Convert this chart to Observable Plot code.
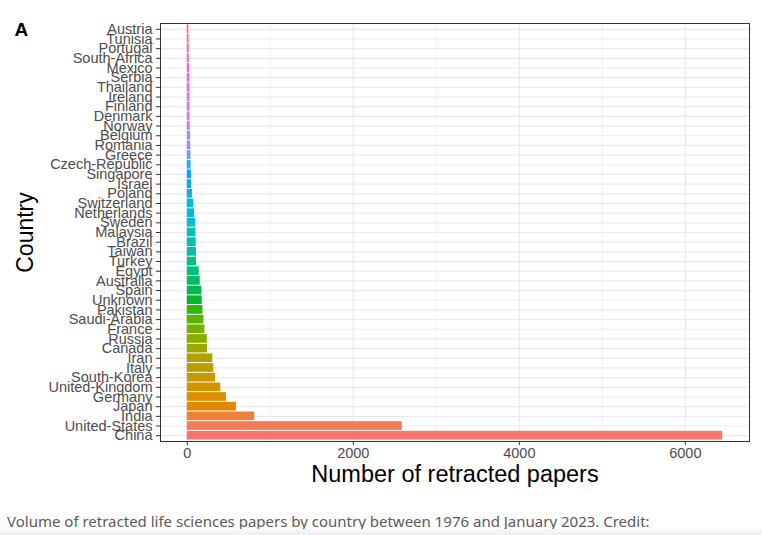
<!DOCTYPE html>
<html>
<head>
<meta charset="utf-8">
<script src="https://cdn.jsdelivr.net/npm/d3@7"></script>
<script src="https://cdn.jsdelivr.net/npm/@observablehq/plot@0.6"></script>
<style>
  html, body { margin: 0; padding: 0; background: #fff; width: 762px; height: 535px; overflow: hidden; }
  #chart svg { display: block; }
  #caption { font-family: "Noto Sans", sans-serif; font-size: 15px; color: #5a5a5a; padding-left: 7px; margin-top: 11px; line-height: 20px; white-space: nowrap; }
  #strip { position: absolute; left: 0; top: 529px; width: 762px; height: 6px; background: linear-gradient(#f7f7f7, #efefef); }
</style>
</head>
<body>
<div id="chart"></div>
<div id="caption">Volume of retracted life sciences papers by country between 1976 and January 2023. Credit:</div>
<div id="strip"></div>
<script>
// Countries, top to bottom as drawn
const countries = [
  "Austria", "Tunisia", "Portugal", "South-Africa", "Mexico", "Serbia", "Thailand",
  "Ireland", "Finland", "Denmark", "Norway", "Belgium", "Romania", "Greece",
  "Czech-Republic", "Singapore", "Israel", "Poland", "Switzerland", "Netherlands",
  "Sweden", "Malaysia", "Brazil", "Taiwan", "Turkey", "Egypt", "Australia", "Spain",
  "Unknown", "Pakistan", "Saudi-Arabia", "France", "Russia", "Canada", "Iran", "Italy",
  "South-Korea", "United-Kingdom", "Germany", "Japan", "India", "United-States", "China"
];
// Number of retracted papers
const papers = [
  20, 22, 24, 25, 27, 28, 30,
  31, 33, 34, 36, 40, 42, 44,
  46, 50, 52, 62, 78, 88,
  100, 105, 108, 110, 112, 144, 156, 176,
  180, 188, 200, 212, 242, 245, 308, 320,
  340, 404, 472, 592, 813, 2590, 6450
];
const xTicks = [0, 2000, 4000, 6000];
const xMinor = [1000, 3000, 5000];
const xLabel = "Number of retracted papers";
const yLabel = "Country";
const panelTag = "A";

// ggplot2 default hue palette: polar LUV, c=100, l=65
function hclLuv(h, c, l) {
  const Xn = 95.047, Yn = 100, Zn = 108.883;
  const un = 4 * Xn / (Xn + 15 * Yn + 3 * Zn), vn = 9 * Yn / (Xn + 15 * Yn + 3 * Zn);
  const Y = Yn * Math.pow((l + 16) / 116, 3);
  const hr = h * Math.PI / 180;
  const u = c * Math.cos(hr), v = c * Math.sin(hr);
  const up = u / (13 * l) + un, vp = v / (13 * l) + vn;
  const X = Y * 9 * up / (4 * vp);
  const Z = Y * (12 - 3 * up - 20 * vp) / (4 * vp);
  const x = X / 100, y = Y / 100, z = Z / 100;
  let r = 3.2404542 * x - 1.5371385 * y - 0.4985314 * z;
  let g = -0.9692660 * x + 1.8760108 * y + 0.0415560 * z;
  let b = 0.0556434 * x - 0.2040259 * y + 1.0572252 * z;
  const gam = t => { t = t <= 0.0031308 ? 12.92 * t : 1.055 * Math.pow(t, 1 / 2.4) - 0.055; return Math.max(0, Math.min(1, t)); };
  return d3.rgb(gam(r) * 255, gam(g) * 255, gam(b) * 255).formatHex();
}
const n = countries.length;
// level order in ggplot: China first (bottom), Austria last (top)
const levels = countries.slice().reverse();
const palette = levels.map((_, i) => hclLuv(15 + 360 * i / n, 100, 65));

const data = countries.map((c, i) => ({country: c, papers: papers[i]}));
const xMax = d3.max(papers);
const pad = xMax * 0.05;

const chart = Plot.plot({
  width: 762,
  height: 500,
  marginLeft: 160,
  marginRight: 13,
  marginTop: 23,
  marginBottom: 59,
  style: {fontFamily: "'Liberation Sans', Arial, sans-serif", background: "#fff"},
  x: {domain: [-pad, xMax + pad], label: null},
  y: {domain: countries, paddingInner: 0.1, paddingOuter: 0.15, round: false, label: null},
  color: {domain: levels, range: palette},
  marks: [
    Plot.ruleX(xMinor, {stroke: "#ebebeb", strokeWidth: 0.6}),
    Plot.ruleX(xTicks, {stroke: "#ebebeb", strokeWidth: 1.2}),
    Plot.gridY({stroke: "#ebebeb", strokeOpacity: 1, strokeWidth: 1.2}),
    Plot.barX(data, {x: "papers", y: "country", fill: "country"}),
    Plot.axisY({tickSize: 4, tickPadding: 4, fontSize: 14.5, color: "#4d4d4d", stroke: "#333", label: null}),
    Plot.axisX({ticks: xTicks, tickSize: 4, tickPadding: 2, fontSize: 14.5, color: "#4d4d4d", stroke: "#333", label: null, tickFormat: d3.format("d")}),
    Plot.frame({stroke: "#333", strokeWidth: 1}),
    Plot.text([yLabel], {frameAnchor: "left", text: d => d, rotate: -90, dx: -135, fontSize: 23, fill: "black", textAnchor: "middle"}),
    Plot.text([xLabel], {frameAnchor: "bottom", text: d => d, dy: 33, fontSize: 23.5, fill: "black", textAnchor: "middle", lineAnchor: "middle"}),
    Plot.text([panelTag], {frameAnchor: "top-left", text: d => d, dx: -146, dy: -1, fontSize: 19, fontWeight: "bold", fill: "black", textAnchor: "start", lineAnchor: "top"})
  ]
});
document.getElementById("chart").appendChild(chart);
</script>
</body>
</html>
